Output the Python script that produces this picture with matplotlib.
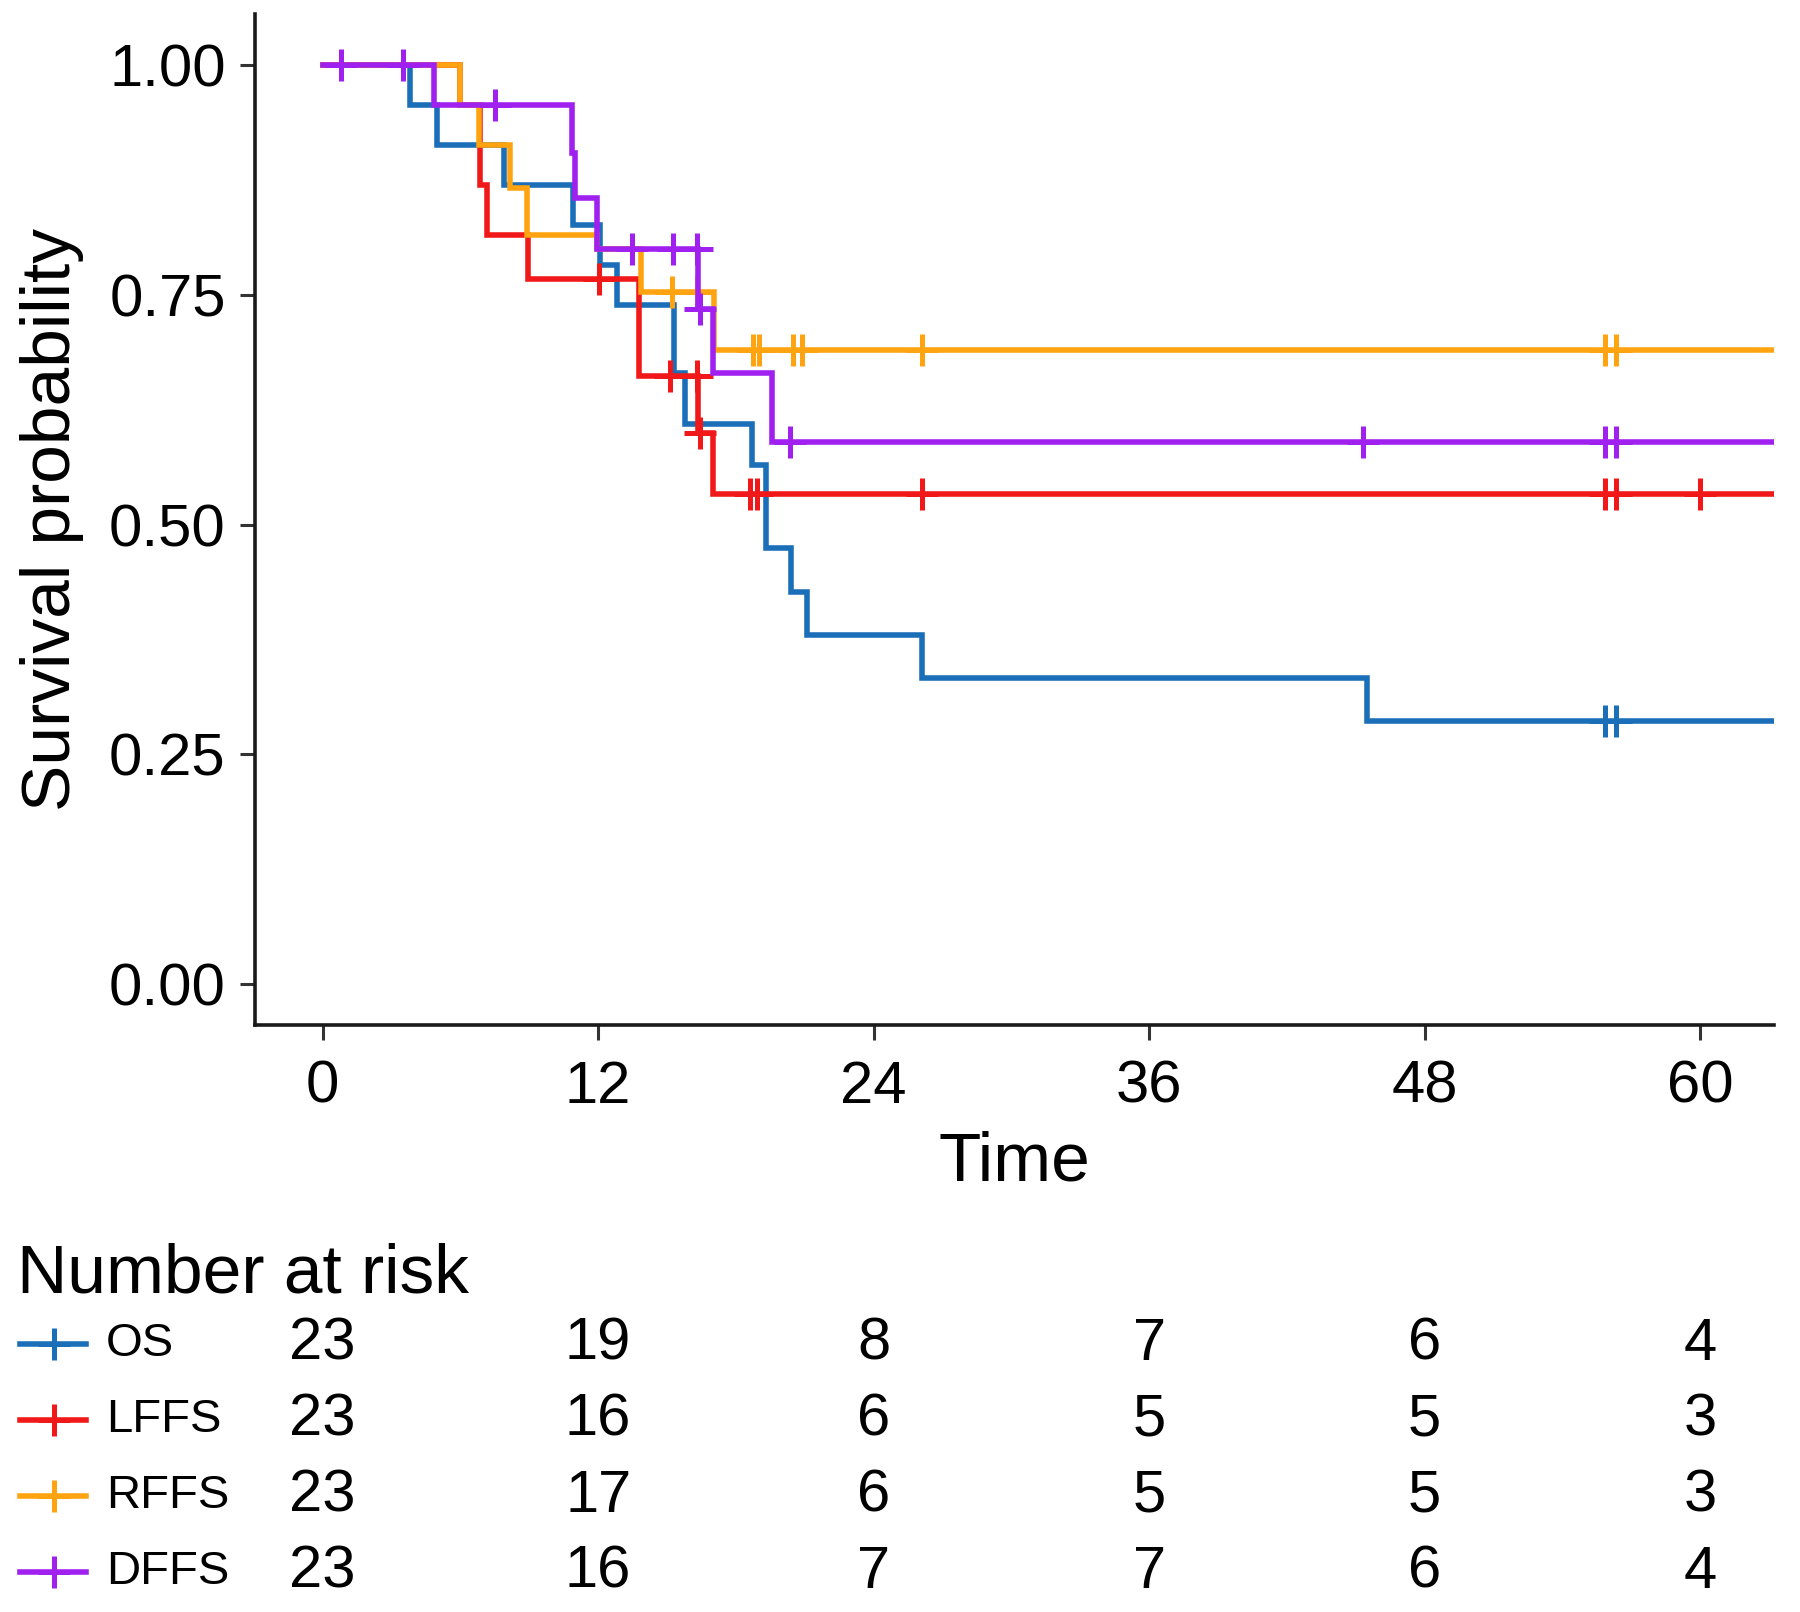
import matplotlib
matplotlib.use("Agg")
import matplotlib.pyplot as plt
import numpy as np

plt.rcParams["font.family"] = ["Liberation Sans", "DejaVu Sans"]

# step curves (time in months, survival probability)
os_t = [0, 3.8, 5.0, 7.9, 10.9, 12.1, 12.8, 15.3, 15.8, 18.7, 19.3, 20.4, 21.1, 26.1, 45.5]
os_s = [1, 0.957, 0.913, 0.870, 0.826, 0.783, 0.739, 0.665, 0.609, 0.565, 0.474, 0.427, 0.380, 0.333, 0.286]
os_cens = [55.85, 56.35]

lffs_t = [0, 6.0, 6.85, 7.15, 8.95, 13.8, 16.35, 17.0]
lffs_s = [1, 0.957, 0.870, 0.815, 0.767, 0.662, 0.600, 0.533]
lffs_cens = [12.05, 15.15, 16.3, 16.45, 18.6, 18.9, 26.1, 55.85, 56.35, 60.0]

rffs_t = [0, 6.0, 6.8, 8.15, 8.9, 11.94, 13.85, 17.05]
rffs_s = [1, 0.957, 0.913, 0.866, 0.815, 0.800, 0.753, 0.690]
rffs_cens = [15.2, 16.3, 18.75, 19.0, 20.5, 20.9, 26.1, 55.85, 56.35]

dffs_t = [0, 4.85, 10.85, 11.0, 11.94, 16.37, 17.02, 19.56]
dffs_s = [1, 0.957, 0.905, 0.855, 0.800, 0.735, 0.665, 0.590]
dffs_cens = [0.8, 3.5, 7.5, 13.46, 15.28, 16.29, 16.44, 20.35, 45.3, 55.85, 56.35]

t_end = 63.3

groups = ["OS", "LFFS", "RFFS", "DFFS"]
colors = ["#1b6fb9", "#f01818", "#ffa310", "#a020f0"]

risk_times = [0, 12, 24, 36, 48, 60]
risk_os = [23, 19, 8, 7, 6, 4]
risk_lffs = [23, 16, 6, 5, 5, 3]
risk_rffs = [23, 17, 6, 5, 5, 3]
risk_dffs = [23, 16, 7, 7, 6, 4]


def step_value(ts, ss, x):
    idx = np.searchsorted(ts, x, side="right") - 1
    return np.array(ss)[idx]


def main():
    fig = plt.figure(figsize=(18, 16.12), dpi=100)
    ax = fig.add_axes([0.1416, 0.3641, 0.8438, 0.6273])

    curves = [(os_t, os_s, os_cens), (lffs_t, lffs_s, lffs_cens),
              (rffs_t, rffs_s, rffs_cens), (dffs_t, dffs_s, dffs_cens)]
    for (ts, ss, cens), col in zip(curves, colors):
        x = list(ts) + [t_end]
        y = list(ss) + [ss[-1]]
        ax.step(x, y, where="post", color=col, lw=4.0, solid_joinstyle="miter")
        cy = step_value(ts, ss, cens)
        ax.plot(cens, cy, ls="none", marker="+", ms=23, mew=3.6, color=col)

    ax.set_xlim(-2.95, 63.2)
    ax.set_ylim(-0.045, 1.056)
    ax.set_xticks(risk_times)
    ax.set_yticks([0, 0.25, 0.5, 0.75, 1.0])
    ax.set_yticklabels(["0.00", "0.25", "0.50", "0.75", "1.00"])
    for s in ["top", "right"]:
        ax.spines[s].set_visible(False)
    for s in ["left", "bottom"]:
        ax.spines[s].set_linewidth(2.6)
        ax.spines[s].set_color("#1a1a1a")
    ax.tick_params(axis="both", labelsize=43, length=11, width=2.2, color="#333333")
    ax.tick_params(axis="y", pad=10)
    ax.tick_params(axis="x", pad=14)

    ax.set_xlabel("Time", fontsize=50)
    ax.xaxis.set_label_coords(0.5, -0.1355)
    ax.xaxis.label.set_va("center")
    ax.set_ylabel("Survival probability", fontsize=50)
    ax.yaxis.set_label_coords(-0.1337, 0.5)
    ax.yaxis.label.set_va("center")

    # number at risk table
    fig.text(0.0095, 0.2092, "Number at risk", fontsize=50, va="center", ha="left")
    tab = fig.add_axes([0.1416, 0.0012, 0.8438, 0.1886])
    tab.set_xlim(ax.get_xlim())
    tab.set_ylim(-0.5, 3.5)
    tab.axis("off")

    risks = [risk_os, risk_lffs, risk_rffs, risk_dffs]
    for i, (name, col, vals) in enumerate(zip(groups, colors, risks)):
        row = 3 - i
        tab.plot([-13.2, -10.3], [row, row], color=col, lw=4.0, clip_on=False)
        tab.plot([-11.7], [row], marker="+", ms=23, mew=3.6, color=col, clip_on=False)
        tab.text(-9.45, row, name, fontsize=34, va="center", ha="left", clip_on=False)
        for t, v in zip(risk_times, vals):
            tab.text(t, row, str(v), fontsize=43, va="center", ha="center")

    fig.savefig("out.png", dpi=100)


if __name__ == "__main__":
    main()
